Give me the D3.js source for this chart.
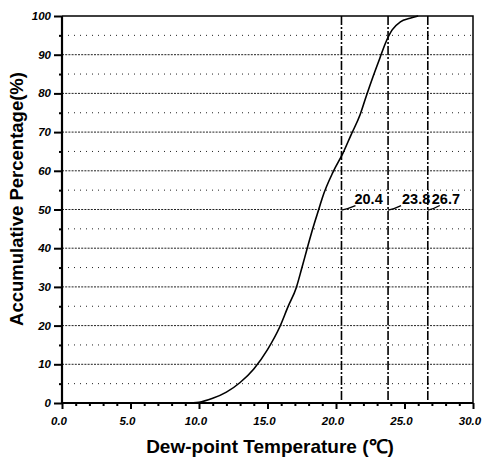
<!DOCTYPE html>
<html><head><meta charset="utf-8">
<script src="https://cdn.jsdelivr.net/npm/d3@7/dist/d3.min.js"></script>
<style>body{margin:0;background:#fff}svg{display:block}</style>
</head><body>
<svg id="c" width="486" height="458"></svg>
<script>
// Data
const temps = [9.0, 10.0, 11.0, 12.0, 13.0, 14.0, 15.0, 15.9, 16.5, 17.1, 17.5, 17.9, 18.35, 18.8, 19.0, 19.8, 20.5, 21.1, 21.75, 22.2, 22.7, 23.2, 23.6, 24.1, 24.7, 25.4, 26.0];
const percents = [0, 0.2, 1.2, 2.8, 5.3, 8.8, 13.8, 19.7, 24.9, 29.8, 34.8, 40.0, 45.6, 50.7, 53.0, 59.8, 64.5, 69.3, 74.4, 79.2, 84.3, 89.1, 92.9, 96.4, 98.5, 99.4, 100];
const markValues = [20.4, 23.8, 26.7];
const markLabels = ["20.4", "23.8", "26.7"];
const xTickValues = [0, 5, 10, 15, 20, 25, 30];
const xTickLabels = ["0.0", "5.0", "10.0", "15.0", "20.0", "25.0", "30.0"];
const yTickValues = [0, 10, 20, 30, 40, 50, 60, 70, 80, 90, 100];
const yTickLabels = ["0", "10", "20", "30", "40", "50", "60", "70", "80", "90", "100"];

// Layout
const L = 62, R = 473, T = 16, B = 403;
const labelDx = [13, 14, 4];
const leaderEnd = [14, 13, 12];
const svg = d3.select("#c");
const x = d3.scaleLinear().domain([0, 30]).range([L, R]);
const y = d3.scaleLinear().domain([0, 100]).range([B, T]);
const font = "'Liberation Sans', Arial, sans-serif";

// grid
const gridVals = d3.range(5, 100, 5);
svg.append("g").selectAll("line").data(gridVals).join("line")
  .attr("x1", L).attr("x2", R)
  .attr("y1", d => y(d)).attr("y2", d => y(d))
  .attr("stroke", "#222").attr("stroke-width", 1)
  .attr("stroke-dasharray", d => d % 10 === 0 ? "2,1.2" : "1,5");

// vertical dash-dot lines
svg.append("g").selectAll("line").data(markValues).join("line")
  .attr("x1", d => x(d)).attr("x2", d => x(d))
  .attr("y1", T).attr("y2", B)
  .attr("stroke", "#000").attr("stroke-width", 1.6)
  .attr("stroke-dasharray", "9,2,2,2");

// curve
const pts = temps.map((t, i) => [t, percents[i]]);
svg.append("path").datum(pts)
  .attr("fill", "none").attr("stroke", "#000").attr("stroke-width", 1.6)
  .attr("d", d3.line().x(d => x(d[0])).y(d => y(d[1])).curve(d3.curveMonotoneX));

// frame
svg.append("path")
  .attr("d", `M${L},${T}H${R}V${B}`)
  .attr("fill", "none").attr("stroke", "#000").attr("stroke-width", 1.5);

// axes
const xAxis = svg.append("g").attr("transform", `translate(0,${B})`)
  .call(d3.axisBottom(x).tickValues(d3.range(0, 31, 1)).tickSize(3).tickFormat(""));
xAxis.selectAll(".tick line").attr("stroke-width", 2)
  .attr("y2", d => d % 5 === 0 ? 6 : 3);
xAxis.select(".domain").attr("stroke-width", 2.2).attr("d", `M${L},0H${R}`);

svg.append("g").selectAll("text").data(xTickValues).join("text")
  .attr("x", d => x(d) - 3).attr("y", 425)
  .attr("text-anchor", "middle")
  .attr("font-family", font).attr("font-size", 11.5).attr("font-weight", "bold")
  .attr("font-style", "italic")
  .text((d, i) => xTickLabels[i]);

const yAxis = svg.append("g").attr("transform", `translate(${L},0)`)
  .call(d3.axisLeft(y).tickValues(d3.range(0, 101, 5)).tickSize(8).tickFormat(""));
yAxis.selectAll(".tick line").attr("stroke-width", 2)
  .attr("x2", d => d % 10 === 0 ? -8 : -3);
yAxis.select(".domain").attr("stroke-width", 2.2).attr("d", `M0,${T}V${B}`);

svg.append("g").selectAll("text").data(yTickValues).join("text")
  .attr("x", 51).attr("y", d => y(d) + 4)
  .attr("text-anchor", "end")
  .attr("font-family", font).attr("font-size", 11.5).attr("font-weight", "bold")
  .attr("font-style", "italic")
  .text((d, i) => yTickLabels[i]);

// mark labels + leaders
const lblY = y(52.7);
svg.append("g").selectAll("text").data(markValues).join("text")
  .attr("x", (d, i) => x(d) + labelDx[i]).attr("y", lblY + 5)
  .attr("font-family", font).attr("font-size", 14.5).attr("font-weight", "bold")
  .text((d, i) => markLabels[i]);
svg.append("g").selectAll("path").data(markValues).join("path")
  .attr("fill", "none").attr("stroke", "#000").attr("stroke-width", 1.3)
  .attr("d", (d, i) => {
    const x0 = x(d), y0 = lblY + 11;
    const x1 = x0 + leaderEnd[i], y1 = lblY + 6.5;
    return `M${x0},${y0}Q${x0 + 6},${y0 - 1} ${x1},${y1}`;
  });

// axis titles
svg.append("text")
  .attr("x", 270).attr("y", 453)
  .attr("text-anchor", "middle")
  .attr("font-family", font).attr("font-size", 19).attr("font-weight", "bold")
  .text("Dew-point Temperature (℃)");
svg.append("text")
  .attr("transform", `translate(23,199) rotate(-90)`)
  .attr("text-anchor", "middle")
  .attr("font-family", font).attr("font-size", 18.5).attr("font-weight", "bold")
  .text("Accumulative Percentage(%)");
</script>
</body></html>
